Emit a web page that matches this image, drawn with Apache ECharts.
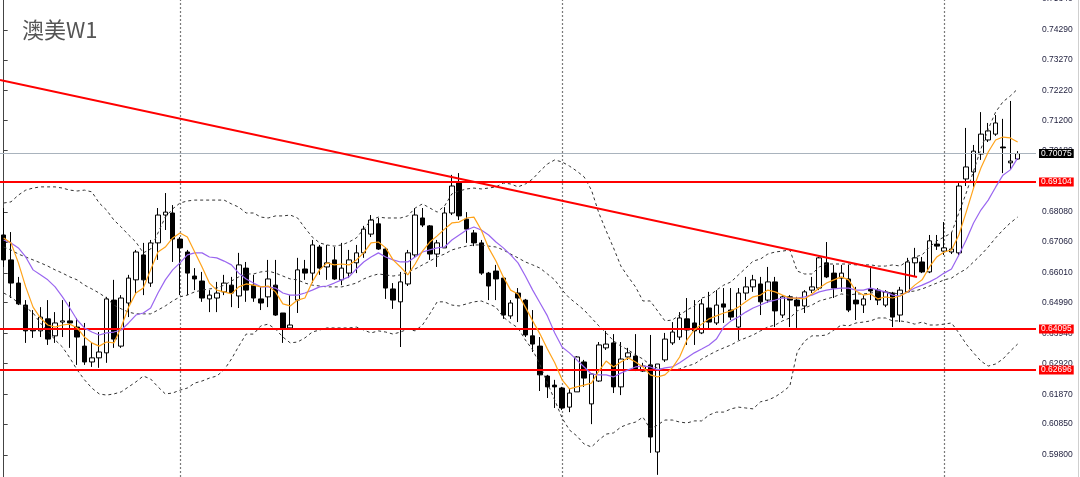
<!DOCTYPE html>
<html><head><meta charset="utf-8">
<script src="https://cdn.jsdelivr.net/npm/echarts@6/dist/echarts.min.js"></script>
<style>html,body{margin:0;padding:0;background:#fff}#c{width:1080px;height:477px}</style>
</head><body><div id="c"></div>
<script>
// AUD/USD weekly candles
const open = [
0.6730,0.6645,0.6566,0.6491,0.6409,0.6403,0.6444,0.6386,0.6433,0.6437,
0.6416,0.6351,0.6297,0.6311,0.6328,0.6508,0.6351,0.6498,0.6577,0.6662,
0.6566,0.6703,0.6798,0.6805,0.6716,0.6672,0.6590,0.6573,0.6512,0.6515,
0.6536,0.6559,0.6522,0.6617,0.6559,0.6512,0.6519,0.6559,0.6464,0.6413,
0.6508,0.6614,0.6600,0.6689,0.6621,0.6645,0.6577,0.6600,0.6635,0.6669,
0.6733,0.6768,0.6682,0.6546,0.6502,0.6563,0.6662,0.6788,0.6761,0.6665,
0.6686,0.6805,0.6907,0.6784,0.6737,0.6703,0.6600,0.6607,0.6583,0.6454,
0.6532,0.6508,0.6386,0.6351,0.6249,0.6218,0.6208,0.6143,0.6195,0.6297,
0.6154,0.6232,0.6345,0.6362,0.6212,0.6314,0.6317,0.6266,0.6287,0.5990,
0.6304,0.6362,0.6382,0.6444,0.6430,0.6396,0.6481,0.6430,0.6495,0.6474,
0.6416,0.6532,0.6553,0.6563,0.6508,0.6570,0.6457,0.6519,0.6508,0.6488,
0.6542,0.6549,0.6635,0.6600,0.6583,0.6580,0.6508,0.6491,0.6546,0.6542,
0.6491,0.6532,0.6457,0.6536,0.6635,0.6638,0.6604,0.6699,0.6675,0.6672,
0.6669,0.6921,0.6945,0.7006,0.7054,0.7074,0.7030,0.6976,0.6989];
const close = [
0.6645,0.6566,0.6495,0.6403,0.6403,0.6450,0.6375,0.6430,0.6437,0.6430,
0.6382,0.6297,0.6311,0.6331,0.6512,0.6375,0.6515,0.6583,0.6672,0.6577,
0.6703,0.6798,0.6808,0.6716,0.6686,0.6600,0.6580,0.6515,0.6525,0.6532,
0.6566,0.6532,0.6628,0.6542,0.6515,0.6498,0.6580,0.6457,0.6413,0.6423,
0.6611,0.6600,0.6696,0.6617,0.6635,0.6580,0.6617,0.6645,0.6669,0.6750,
0.6781,0.6682,0.6549,0.6508,0.6570,0.6669,0.6798,0.6764,0.6665,0.6703,
0.6805,0.6897,0.6795,0.6750,0.6703,0.6600,0.6556,0.6580,0.6457,0.6498,
0.6515,0.6389,0.6358,0.6253,0.6212,0.6212,0.6140,0.6191,0.6314,0.6242,
0.6256,0.6355,0.6358,0.6212,0.6307,0.6328,0.6273,0.6283,0.6041,0.6290,
0.6375,0.6399,0.6447,0.6406,0.6403,0.6495,0.6433,0.6491,0.6484,0.6450,
0.6532,0.6553,0.6577,0.6502,0.6570,0.6471,0.6519,0.6508,0.6488,0.6536,
0.6553,0.6652,0.6587,0.6549,0.6600,0.6474,0.6495,0.6512,0.6539,0.6508,
0.6536,0.6450,0.6542,0.6638,0.6652,0.6604,0.6710,0.6692,0.6686,0.6682,
0.6897,0.6962,0.7016,0.7074,0.7085,0.7112,0.7027,0.6982,0.70075];
const low = [
0.6621,0.6515,0.6491,0.6362,0.6379,0.6382,0.6355,0.6362,0.6382,0.6345,
0.6287,0.6287,0.6280,0.6277,0.6294,0.6345,0.6345,0.6450,0.6532,0.6525,
0.6553,0.6645,0.6747,0.6638,0.6525,0.6525,0.6542,0.6502,0.6467,0.6467,
0.6525,0.6484,0.6481,0.6502,0.6502,0.6474,0.6484,0.6454,0.6362,0.6406,
0.6464,0.6577,0.6566,0.6594,0.6577,0.6577,0.6559,0.6583,0.6600,0.6652,
0.6723,0.6679,0.6512,0.6478,0.6348,0.6556,0.6655,0.6757,0.6645,0.6621,
0.6686,0.6798,0.6781,0.6703,0.6692,0.6594,0.6508,0.6508,0.6444,0.6444,
0.6433,0.6382,0.6331,0.6198,0.6174,0.6140,0.6133,0.6126,0.6195,0.6212,
0.6085,0.6229,0.6338,0.6191,0.6184,0.6304,0.6266,0.6263,0.5987,0.5912,
0.6297,0.6355,0.6372,0.6355,0.6355,0.6392,0.6406,0.6423,0.6430,0.6440,
0.6372,0.6508,0.6536,0.6457,0.6498,0.6416,0.6447,0.6416,0.6413,0.6464,
0.6532,0.6542,0.6583,0.6515,0.6536,0.6467,0.6440,0.6464,0.6508,0.6491,
0.6484,0.6416,0.6433,0.6536,0.6587,0.6600,0.6600,0.6679,0.6662,0.6665,
0.6658,0.6897,0.6894,0.6986,0.7047,0.7068,0.6941,0.6952,0.6986];
const high = [
0.6822,0.6740,0.6587,0.6508,0.6474,0.6484,0.6508,0.6467,0.6508,0.6502,
0.6447,0.6430,0.6362,0.6399,0.6519,0.6577,0.6525,0.6594,0.6679,0.6703,
0.6713,0.6822,0.6873,0.6832,0.6723,0.6679,0.6617,0.6604,0.6542,0.6570,
0.6594,0.6587,0.6669,0.6638,0.6594,0.6553,0.6645,0.6645,0.6464,0.6525,
0.6652,0.6645,0.6713,0.6696,0.6696,0.6689,0.6703,0.6679,0.6696,0.6761,
0.6798,0.6788,0.6689,0.6566,0.6604,0.6679,0.6822,0.6822,0.6764,0.6713,
0.6825,0.6935,0.6941,0.6808,0.6747,0.6713,0.6604,0.6628,0.6587,0.6508,
0.6549,0.6512,0.6474,0.6382,0.6253,0.6236,0.6212,0.6208,0.6317,0.6304,
0.6259,0.6365,0.6403,0.6392,0.6365,0.6345,0.6392,0.6294,0.6389,0.6290,
0.6396,0.6433,0.6467,0.6515,0.6508,0.6512,0.6536,0.6542,0.6549,0.6549,
0.6549,0.6587,0.6594,0.6587,0.6621,0.6587,0.6525,0.6525,0.6519,0.6542,
0.6587,0.6655,0.6706,0.6628,0.6628,0.6628,0.6553,0.6525,0.6617,0.6549,
0.6542,0.6536,0.6553,0.6652,0.6686,0.6655,0.6730,0.6730,0.6774,0.6740,
0.6907,0.7095,0.7037,0.7149,0.7112,0.7139,0.7126,0.7187,0.7016];

// Indicator lines
const maFast = [
0.6720,0.6703,0.6635,0.6553,0.6484,0.6447,0.6423,0.6416,0.6423,0.6426,
0.6413,0.6382,0.6362,0.6351,0.6365,0.6362,0.6416,0.6484,0.6532,0.6549,
0.6611,0.6672,0.6689,0.6720,0.6737,0.6723,0.6672,0.6621,0.6566,0.6542,
0.6536,0.6529,0.6553,0.6563,0.6559,0.6553,0.6556,0.6536,0.6495,0.6488,
0.6508,0.6515,0.6570,0.6611,0.6635,0.6628,0.6631,0.6628,0.6645,0.6669,
0.6703,0.6706,0.6686,0.6645,0.6621,0.6594,0.6631,0.6675,0.6706,0.6727,
0.6750,0.6771,0.6774,0.6788,0.6791,0.6747,0.6686,0.6641,0.6587,0.6542,
0.6529,0.6484,0.6437,0.6392,0.6341,0.6294,0.6236,0.6205,0.6212,0.6218,
0.6225,0.6266,0.6300,0.6280,0.6297,0.6311,0.6297,0.6280,0.6253,0.6246,
0.6253,0.6277,0.6314,0.6372,0.6406,0.6426,0.6444,0.6454,0.6464,0.6471,
0.6484,0.6502,0.6519,0.6525,0.6542,0.6536,0.6525,0.6515,0.6515,0.6512,
0.6529,0.6549,0.6566,0.6577,0.6587,0.6577,0.6539,0.6525,0.6529,0.6512,
0.6519,0.6515,0.6522,0.6536,0.6559,0.6577,0.6621,0.6655,0.6672,0.6679,
0.6730,0.6808,0.6890,0.6958,0.7013,0.7054,0.7064,0.7061,0.7047];
const maSlow = [
0.6713,0.6703,0.6686,0.6655,0.6611,0.6594,0.6577,0.6553,0.6519,0.6481,
0.6440,0.6413,0.6399,0.6389,0.6396,0.6399,0.6406,0.6430,0.6457,0.6464,
0.6481,0.6532,0.6577,0.6611,0.6635,0.6662,0.6669,0.6669,0.6655,0.6652,
0.6641,0.6628,0.6600,0.6580,0.6566,0.6553,0.6553,0.6549,0.6532,0.6525,
0.6525,0.6532,0.6542,0.6553,0.6556,0.6566,0.6577,0.6587,0.6614,0.6638,
0.6655,0.6669,0.6655,0.6645,0.6638,0.6638,0.6655,0.6672,0.6679,0.6686,
0.6689,0.6713,0.6730,0.6747,0.6757,0.6747,0.6730,0.6706,0.6686,0.6662,
0.6635,0.6590,0.6542,0.6498,0.6454,0.6396,0.6348,0.6328,0.6304,0.6280,
0.6256,0.6253,0.6253,0.6246,0.6259,0.6270,0.6280,0.6283,0.6280,0.6270,
0.6277,0.6280,0.6294,0.6311,0.6328,0.6341,0.6355,0.6375,0.6416,0.6437,
0.6450,0.6467,0.6481,0.6491,0.6502,0.6508,0.6515,0.6515,0.6515,0.6519,
0.6525,0.6536,0.6542,0.6546,0.6549,0.6549,0.6542,0.6542,0.6549,0.6542,
0.6536,0.6525,0.6522,0.6536,0.6549,0.6559,0.6570,0.6583,0.6600,0.6614,
0.6662,0.6713,0.6771,0.6815,0.6849,0.6893,0.6934,0.6952,0.6992];
const bbUpper = [
0.6839,0.6843,0.6866,0.6883,0.6890,0.6894,0.6894,0.6894,0.6890,0.6883,
0.6880,0.6883,0.6877,0.6839,0.6815,0.6781,0.6757,0.6730,0.6706,0.6669,
0.6682,0.6737,0.6791,0.6819,0.6839,0.6846,0.6849,0.6849,0.6849,0.6849,
0.6849,0.6836,0.6825,0.6805,0.6805,0.6791,0.6788,0.6795,0.6795,0.6798,
0.6788,0.6754,0.6723,0.6703,0.6696,0.6692,0.6696,0.6706,0.6720,0.6750,
0.6781,0.6791,0.6788,0.6788,0.6788,0.6795,0.6822,0.6836,0.6822,0.6808,
0.6829,0.6870,0.6880,0.6887,0.6890,0.6887,0.6890,0.6894,0.6907,0.6904,
0.6894,0.6904,0.6921,0.6948,0.6972,0.6986,0.6979,0.6965,0.6948,0.6928,
0.6883,0.6805,0.6744,0.6686,0.6624,0.6587,0.6553,0.6505,0.6505,0.6471,
0.6437,0.6440,0.6457,0.6474,0.6488,0.6515,0.6522,0.6542,0.6559,0.6570,
0.6594,0.6617,0.6641,0.6648,0.6665,0.6672,0.6675,0.6679,0.6607,0.6597,
0.6597,0.6621,0.6631,0.6631,0.6631,0.6631,0.6628,0.6628,0.6628,0.6624,
0.6624,0.6628,0.6624,0.6641,0.6655,0.6662,0.6689,0.6710,0.6723,0.6737,
0.6805,0.6873,0.6948,0.7023,0.7091,0.7149,0.7184,0.7204,0.7228];
const bbMid = [
0.6689,0.6679,0.6665,0.6655,0.6645,0.6635,0.6624,0.6611,0.6600,0.6587,
0.6577,0.6559,0.6546,0.6532,0.6515,0.6491,0.6478,0.6467,0.6461,0.6461,
0.6461,0.6474,0.6488,0.6505,0.6519,0.6525,0.6536,0.6542,0.6546,0.6549,
0.6559,0.6573,0.6587,0.6597,0.6597,0.6604,0.6607,0.6600,0.6590,0.6580,
0.6577,0.6566,0.6559,0.6556,0.6553,0.6553,0.6553,0.6559,0.6566,0.6580,
0.6590,0.6597,0.6594,0.6590,0.6594,0.6604,0.6614,0.6628,0.6641,0.6655,
0.6665,0.6679,0.6686,0.6692,0.6696,0.6696,0.6692,0.6689,0.6679,0.6665,
0.6652,0.6638,0.6628,0.6617,0.6597,0.6577,0.6542,0.6515,0.6495,0.6474,
0.6447,0.6420,0.6396,0.6369,0.6351,0.6338,0.6321,0.6307,0.6287,0.6276,
0.6270,0.6270,0.6273,0.6283,0.6290,0.6307,0.6321,0.6334,0.6345,0.6355,
0.6369,0.6379,0.6389,0.6403,0.6416,0.6423,0.6437,0.6447,0.6471,0.6481,
0.6491,0.6505,0.6512,0.6519,0.6529,0.6525,0.6529,0.6529,0.6532,0.6536,
0.6536,0.6532,0.6529,0.6536,0.6539,0.6546,0.6556,0.6566,0.6577,0.6583,
0.6600,0.6614,0.6638,0.6662,0.6689,0.6720,0.6747,0.6771,0.6791];
const bbLower = [
0.6532,0.6519,0.6498,0.6484,0.6464,0.6430,0.6403,0.6372,0.6348,0.6311,
0.6270,0.6236,0.6208,0.6188,0.6184,0.6188,0.6195,0.6212,0.6229,0.6249,
0.6239,0.6212,0.6188,0.6191,0.6201,0.6208,0.6225,0.6232,0.6242,0.6249,
0.6270,0.6307,0.6351,0.6392,0.6392,0.6420,0.6426,0.6409,0.6382,0.6362,
0.6365,0.6379,0.6399,0.6406,0.6413,0.6413,0.6413,0.6413,0.6416,0.6406,
0.6396,0.6403,0.6399,0.6392,0.6399,0.6409,0.6403,0.6423,0.6461,0.6502,
0.6502,0.6491,0.6488,0.6495,0.6502,0.6505,0.6495,0.6484,0.6450,0.6430,
0.6413,0.6372,0.6338,0.6287,0.6225,0.6167,0.6106,0.6065,0.6045,0.6017,
0.6007,0.6031,0.6051,0.6055,0.6075,0.6085,0.6092,0.6109,0.6068,0.6082,
0.6099,0.6099,0.6092,0.6089,0.6096,0.6096,0.6116,0.6126,0.6126,0.6137,
0.6143,0.6140,0.6137,0.6161,0.6167,0.6178,0.6195,0.6215,0.6331,0.6368,
0.6386,0.6386,0.6389,0.6406,0.6423,0.6420,0.6430,0.6433,0.6437,0.6447,
0.6447,0.6437,0.6437,0.6433,0.6426,0.6433,0.6423,0.6423,0.6426,0.6430,
0.6396,0.6358,0.6328,0.6300,0.6283,0.6290,0.6307,0.6334,0.6358];

// Levels, trend line, separators, axis ticks
const supportLevels = [0.69104, 0.64095, 0.62696];
const currentPrice = 0.70075;
const trendLine = [[-0.5, 0.72585], [124.3, 0.65869]];
const yearSeparators = [24, 76, 128];
const tickValues = [0.7429,0.7327,0.7222,0.7120,0.7018,0.6913,0.6808,0.6706,0.6601,0.6499,0.6394,0.6292,0.6187,0.6085,0.5980];
const slots = 141;
const weeks = Array.from({length: slots}, (_, i) => 'W' + (i + 1));

const FONT = '"Liberation Sans", Arial, sans-serif';
const candles = open.map((o, i) => [o, close[i], low[i], high[i]]);
const chart = echarts.init(document.getElementById('c'), null, {renderer: 'canvas'});

function bb(data) {
  return {type: 'line', data: data, symbol: 'none', silent: true, z: 4,
    lineStyle: {color: '#333', width: 1, type: [3, 3]}};
}
const levelLines = supportLevels.map(v => ({
  yAxis: v,
  lineStyle: {color: '#ff0000', width: 2, type: 'solid'},
  label: {show: true, position: 'end', distance: 3, formatter: v.toFixed(5),
    backgroundColor: '#ff0000', color: '#fff', fontSize: 8.5, fontFamily: FONT,
    lineHeight: 9, padding: [0, 2, 0, 2]}
}));
levelLines.push({
  yAxis: currentPrice,
  lineStyle: {color: '#a9b3bd', width: 1, type: 'solid'},
  label: {show: true, position: 'end', distance: 3, formatter: currentPrice.toFixed(5),
    backgroundColor: '#000', color: '#fff', fontSize: 8.5, fontFamily: FONT,
    lineHeight: 9, padding: [0, 2, 0, 2]}
});

chart.setOption({
  animation: false,
  backgroundColor: '#fff',
  grid: {left: 0, right: 44, top: 0, bottom: 0, containLabel: false},
  xAxis: [
    {type: 'category', data: weeks, boundaryGap: true,
      axisLine: {show: false}, axisTick: {show: false}, axisLabel: {show: false}, splitLine: {show: false}},
    {type: 'value', min: -0.5, max: slots - 0.5, show: false}
  ],
  yAxis: {
    type: 'value', position: 'right', min: 0.59047, max: 0.75313, scale: true,
    axisLine: {show: true, lineStyle: {color: '#444', width: 1}},
    axisTick: {show: true, inside: false, length: 4, customValues: tickValues, lineStyle: {color: '#444'}},
    axisLabel: {show: true, customValues: tickValues, margin: 6, color: '#1e1e3c',
      fontSize: 8.5, fontFamily: FONT, formatter: v => v.toFixed(5)},
    splitLine: {show: false}
  },
  graphic: [
    {type: 'text', left: 22, top: 19, style: {text: '澳美W1', font: 'normal 22px "Noto Sans CJK SC"', fill: '#555'}},
    {type: 'text', left: 1042, top: -6, style: {text: '0.75340', font: 'normal 8.5px ' + FONT, fill: '#1e1e3c'}},
    {type: 'line', shape: {x1: 1078.5, y1: 0, x2: 1078.5, y2: 477}, style: {stroke: '#cfcfcf', lineWidth: 1}}
  ],
  series: [
    {type: 'candlestick', data: candles, barWidth: 5, z: 3, silent: true,
      itemStyle: {color: '#fff', color0: '#000', borderColor: '#000', borderColor0: '#000', borderWidth: 1},
      markLine: {silent: true, symbol: ['none', 'none'], label: {show: false}, z: 1,
        lineStyle: {color: '#7a7a7a', width: 1.2, type: [2, 2]},
        data: yearSeparators.map(i => ({xAxis: i}))}
    },
    bb(bbUpper), bb(bbMid), bb(bbLower),
    {type: 'line', data: maSlow, symbol: 'none', silent: true, z: 5,
      lineStyle: {color: '#9a66f0', width: 1.2}},
    {type: 'line', data: maFast, symbol: 'none', silent: true, z: 6,
      lineStyle: {color: '#ffa31a', width: 1.2}},
    {type: 'line', xAxisIndex: 1, data: trendLine, symbol: 'none', silent: true, z: 7,
      lineStyle: {color: '#ff0000', width: 2},
      markLine: {silent: true, precision: 5, symbol: ['none', 'none'], data: levelLines}}
  ]
});
</script>
</body></html>
